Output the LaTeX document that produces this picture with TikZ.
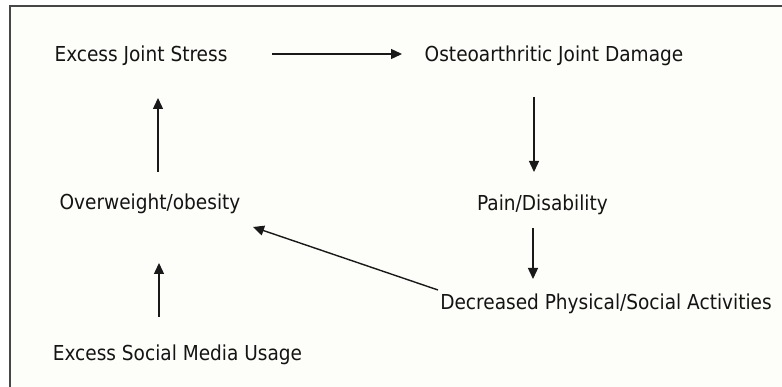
\documentclass[tikz,border=0pt]{standalone}
\usepackage{fontspec}
\setmainfont{DejaVu Sans Condensed}
\usetikzlibrary{arrows.meta,calc}
\definecolor{paper}{RGB}{253,253,249}
\definecolor{ink}{RGB}{20,20,20}
\definecolor{rule}{RGB}{25,25,25}
\begin{document}
\begin{tikzpicture}[x=1pt,y=-1pt,
  lbl/.style={anchor=base,inner sep=0pt,text=ink,font=\fontsize{20.6}{24}\selectfont},
  arr/.style={draw=rule,line width=1.4pt,-{Triangle[length=11pt,width=10pt]}}]
\useasboundingbox (0,0) rectangle (782,387);
\fill[white] (0,0) rectangle (782,387);
\fill[paper] (10,6) rectangle (782,387);
\draw[rule!80,line width=1.1pt] (10,387) -- (10,6) -- (782,6);
\node[lbl] (js) at (141,62) {Excess Joint Stress};
\node[lbl] (oa) at (554,62) {Osteoarthritic Joint Damage};
\node[lbl] (ow) at (150,210) {Overweight/obesity};
\node[lbl] (pd) at (542.5,211) {Pain/Disability};
\node[lbl] (dp) at (606,310) {Decreased Physical/Social Activities};
\node[lbl] (sm) at (177.5,361) {Excess Social Media Usage};
\draw[arr] ($(js.base)+(131,-8)$) -- ($(oa.base)+(-152,-8)$);
\draw[arr] ($(oa.base)+(-20,35)$) -- ($(pd.base)+(-8.5,-39)$);
\draw[arr] ($(pd.base)+(-9.5,17)$) -- ($(dp.base)+(-73,-31)$);
\draw[arr] ($(dp.base)+(-168,-20)$) -- ($(ow.base)+(103,17)$);
\draw[arr] ($(ow.base)+(8,-38)$) -- ($(js.base)+(17,36)$);
\draw[arr] ($(sm.base)+(-18.5,-44)$) -- ($(ow.base)+(9,53)$);
\end{tikzpicture}
\end{document}
